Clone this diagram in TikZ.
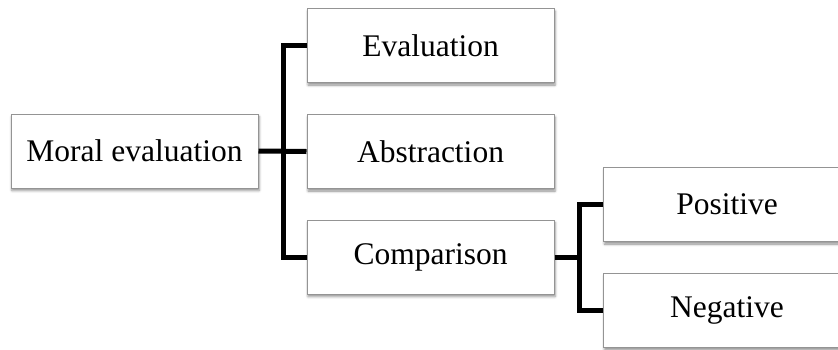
\documentclass[tikz,border=0pt]{standalone}
\usepackage{fontspec}
\setmainfont{Liberation Serif}
\usetikzlibrary{shadows.blur}
\begin{document}
\begin{tikzpicture}[x=1pt,y=-1pt,
  box/.style={draw=black!42, line width=1pt, fill=white,
    minimum width=247pt, minimum height=74pt, inner sep=0pt,
    font=\fontsize{31.5}{36}\selectfont,
    blur shadow={shadow xshift=1pt, shadow yshift=-2.5pt, shadow blur radius=2.5pt, shadow opacity=45}},
  link/.style={line width=5pt, line join=miter, black}]
\useasboundingbox (0,0) rectangle (838,349);
\clip (0,0) rectangle (838,349);
% tree nodes
\node[box] (moral) at (134.5,151) {Moral evaluation};
\node[box] (evaluation) at (430.5,45.5) {Evaluation};
\node[box] (abstraction) at (430.5,151.5) {Abstraction};
\node[box] (comparison) at (430.5,257) {Comparison};
\node[box] (positive) at (727,204.5) {Positive};
\node[box] (negative) at (727,310.5) {Negative};
% branch points
\coordinate (j1) at (283.5,151);
\coordinate (j2) at (579.5,257);
% connectors
\draw[link] (moral.east) -- (abstraction.west);
\draw[link] (evaluation.west) -| (j1) |- (comparison.west);
\draw[link] (comparison.east) -- (j2);
\draw[link] (positive.west) -| (j2) |- (negative.west);
\end{tikzpicture}
\end{document}
